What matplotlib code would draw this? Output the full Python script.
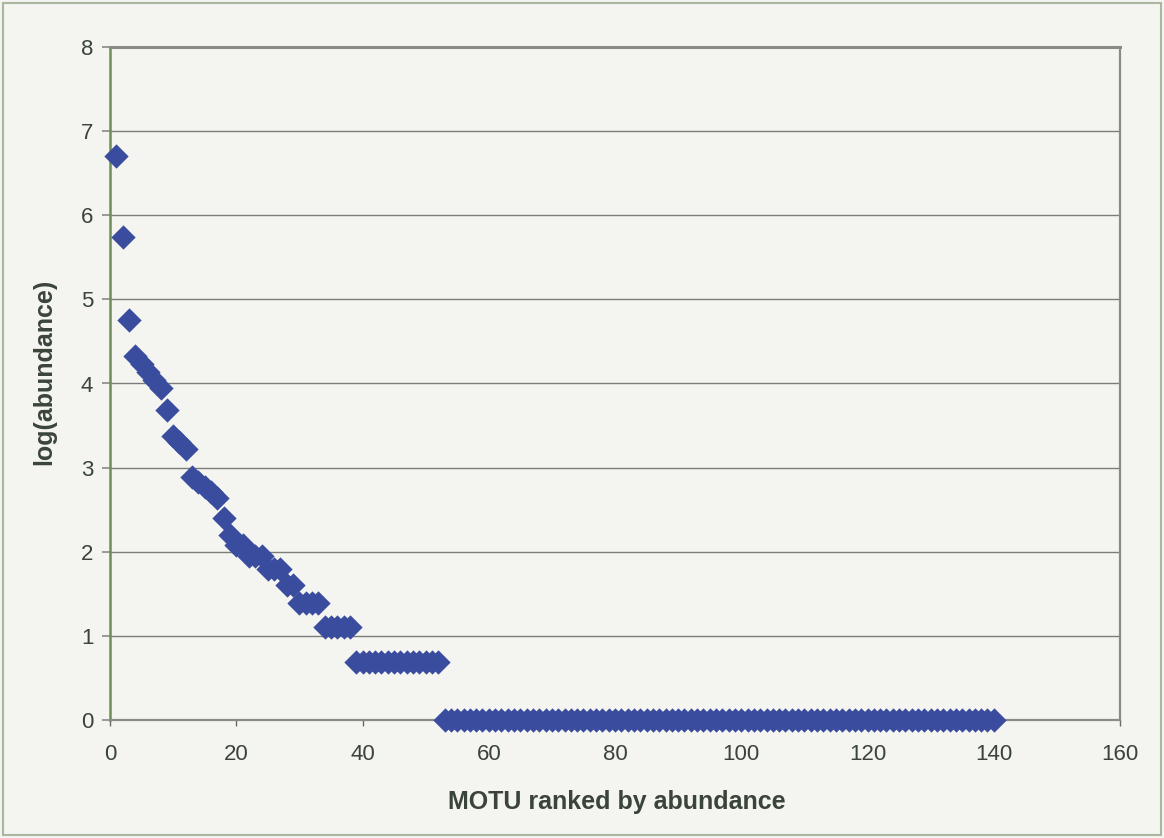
import matplotlib
matplotlib.use("Agg")
import matplotlib.pyplot as plt
from matplotlib.patches import Rectangle

# ---- data ----
log_abundance = [
    6.70, 5.74, 4.75, 4.33, 4.23, 4.14, 4.04, 3.95, 3.69, 3.37,
    3.30, 3.22, 2.89, 2.83, 2.77, 2.71, 2.64, 2.40, 2.20, 2.08,
    2.08, 1.95, 1.95, 1.95, 1.79, 1.79, 1.79, 1.61, 1.61, 1.39,
    1.39, 1.39, 1.39, 1.10, 1.10, 1.10, 1.10, 1.10, 0.69, 0.69,
    0.69, 0.69, 0.69, 0.69, 0.69, 0.69, 0.69, 0.69, 0.69, 0.69,
    0.69, 0.69, 0.00, 0.00, 0.00, 0.00, 0.00, 0.00, 0.00, 0.00,
    0.00, 0.00, 0.00, 0.00, 0.00, 0.00, 0.00, 0.00, 0.00, 0.00,
    0.00, 0.00, 0.00, 0.00, 0.00, 0.00, 0.00, 0.00, 0.00, 0.00,
    0.00, 0.00, 0.00, 0.00, 0.00, 0.00, 0.00, 0.00, 0.00, 0.00,
    0.00, 0.00, 0.00, 0.00, 0.00, 0.00, 0.00, 0.00, 0.00, 0.00,
    0.00, 0.00, 0.00, 0.00, 0.00, 0.00, 0.00, 0.00, 0.00, 0.00,
    0.00, 0.00, 0.00, 0.00, 0.00, 0.00, 0.00, 0.00, 0.00, 0.00,
    0.00, 0.00, 0.00, 0.00, 0.00, 0.00, 0.00, 0.00, 0.00, 0.00,
    0.00, 0.00, 0.00, 0.00, 0.00, 0.00, 0.00, 0.00, 0.00, 0.00,
]
ranks = list(range(1, len(log_abundance) + 1))

x_ticks = [0, 20, 40, 60, 80, 100, 120, 140, 160]
y_ticks = [0, 1, 2, 3, 4, 5, 6, 7, 8]
x_label = "MOTU ranked by abundance"
y_label = "log(abundance)"

# ---- styling ----
plt.rcParams['font.family'] = ['Liberation Sans', 'DejaVu Sans']
bg = '#f4f4f1'
marker_color = '#3a4c9e'
text_color = '#3a4438'

fig = plt.figure(figsize=(11.64, 8.38), dpi=100, facecolor=bg)
ax = fig.add_axes([110 / 1164, 1 - 720 / 838, (1120 - 110) / 1164, (720 - 47) / 838])
ax.set_facecolor(bg)

# outer frame of the chart
fig.patches.append(Rectangle((0.003, 0.004), 0.994, 0.992, transform=fig.transFigure,
                             fill=False, edgecolor='#a9b6a0', linewidth=1.5))

ax.set_xlim(0, 160)
ax.set_ylim(0, 8)
ax.set_xticks(x_ticks)
ax.set_yticks(y_ticks)
ax.set_xticklabels([str(t) for t in x_ticks])
ax.set_yticklabels([str(t) for t in y_ticks])

ax.grid(axis='y', color='#7c7c7a', linewidth=1.0)
ax.set_axisbelow(True)

line, = ax.plot(ranks, log_abundance, linestyle='none', marker='D', markersize=10.5,
                markerfacecolor=marker_color, markeredgecolor=marker_color,
                markeredgewidth=2.2, zorder=3, clip_on=False)
line.set_solid_joinstyle('round')
line.set_dash_joinstyle('round')

for side in ['top', 'right', 'bottom']:
    ax.spines[side].set_color('#8a8a88')
    ax.spines[side].set_linewidth(1.6)
ax.spines['left'].set_color('#6d8f55')
ax.spines['left'].set_linewidth(1.8)
ax.spines['top'].set_linewidth(2.2)

ax.tick_params(axis='y', direction='out', length=6, width=1.2, color='#8a8a88',
               pad=6, labelsize=16, labelcolor=text_color)
ax.tick_params(axis='x', direction='out', length=4, width=1.0, color='#6a6a68',
               pad=13, labelsize=16, labelcolor=text_color)

ax.set_xlabel(x_label, fontsize=18, fontweight='bold', color=text_color)
ax.set_ylabel(y_label, fontsize=18, fontweight='bold', color=text_color)
ax.xaxis.set_label_coords((617 - 110) / 1010, -(790 - 720) / 673)
ax.yaxis.set_label_coords(-(110 - 56) / 1010, (720 - 372) / 673)

fig.savefig('out.png', dpi=100, facecolor=bg)
